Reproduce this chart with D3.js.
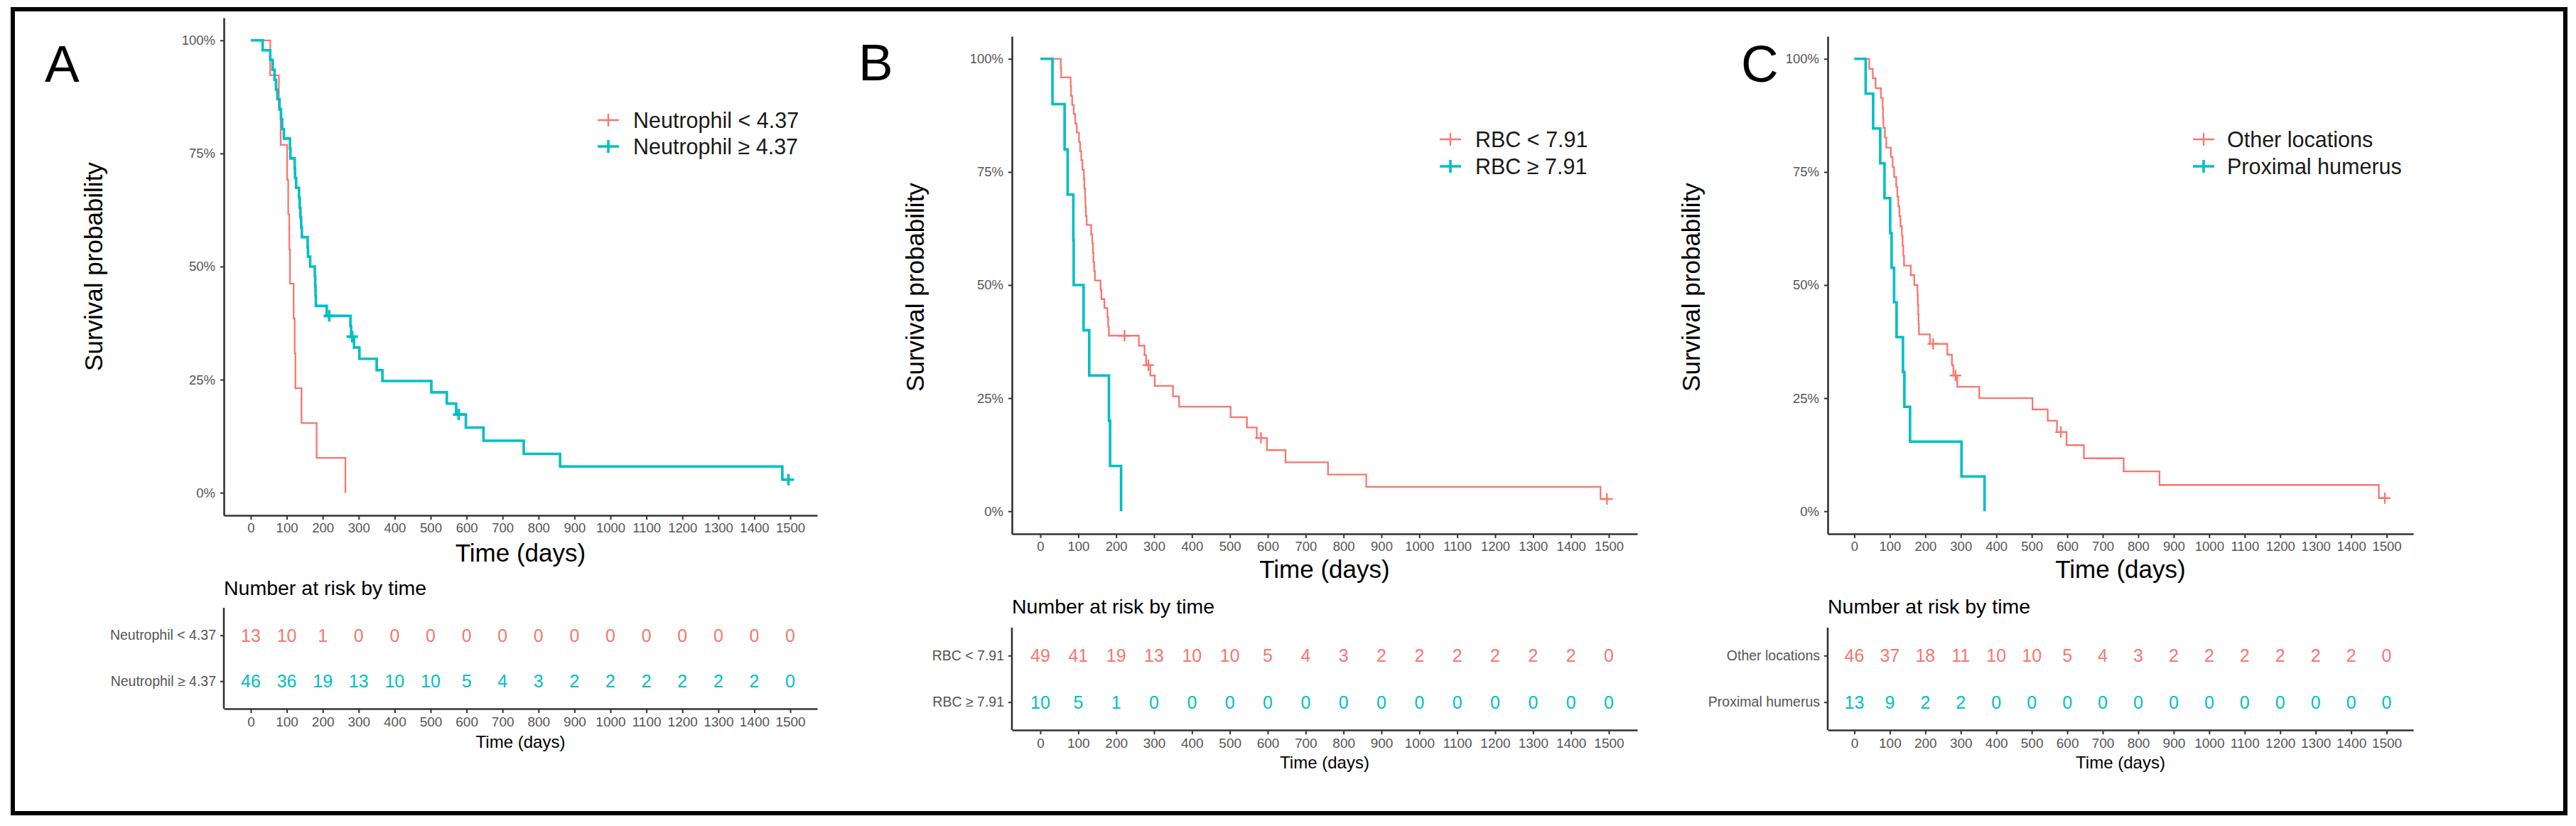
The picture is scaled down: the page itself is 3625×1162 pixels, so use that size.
<!DOCTYPE html>
<html><head><meta charset="utf-8">
<script src="https://cdn.jsdelivr.net/npm/d3@7"></script>
<style>
body{margin:0;background:#fff}
svg{display:block}
text{font-family:"Liberation Sans",Arial,Helvetica,sans-serif}
</style></head>
<body>
<svg id="chart" width="3625" height="1162"></svg>
<script>
// ---------------- DATA ----------------
const timeTicks = [0,100,200,300,400,500,600,700,800,900,1000,1100,1200,1300,1400,1500];
const survTicks = [0,0.25,0.5,0.75,1];
const survTickLabels = ["0%","25%","50%","75%","100%"];

// Panel A : Neutrophil
const aGroups = ["Neutrophil < 4.37", "Neutrophil \u2265 4.37"];
const aLowTime = [0,54,78,83,101,104,107,109,119,122,124,141,183,263];
const aLowSurv = [1,0.923,0.846,0.769,0.692,0.615,0.538,0.462,0.385,0.308,0.231,0.154,0.077,0];
const aLowCens = [];
const aHighTime = [0,33,54,61,66,70,74,80,84,87,92,109,110,122,123,126,134,136,138,140,142,158,159,165,178,179,180,181,211,277,279,287,302,350,366,502,545,571,598,647,759,860,1478,1495];
const aHighSurv = [1,0.978,0.957,0.935,0.913,0.891,0.870,0.848,0.826,0.804,0.783,0.761,0.739,0.717,0.696,0.674,0.652,0.630,0.609,0.587,0.565,0.543,0.522,0.500,0.478,0.457,0.435,0.413,0.391,0.368,0.345,0.321,0.296,0.271,0.247,0.222,0.197,0.173,0.144,0.115,0.086,0.058,0.029,0.029];
const aHighCens = [218,282,578,1495];
const aRiskLow  = [13,10,1,0,0,0,0,0,0,0,0,0,0,0,0,0];
const aRiskHigh = [46,36,19,13,10,10,5,4,3,2,2,2,2,2,2,0];

// Panel B : RBC
const bGroups = ["RBC < 7.91", "RBC \u2265 7.91"];
const bLowTime = [0,54,55,80,81,84,88,92,96,102,105,108,111,115,116,118,119,120,122,134,137,139,140,142,144,159,161,169,177,179,181,260,275,279,290,302,350,366,502,545,571,598,647,759,860,1478,1495];
const bLowSurv = [1,0.980,0.959,0.939,0.918,0.898,0.878,0.857,0.837,0.816,0.796,0.776,0.755,0.735,0.714,0.694,0.673,0.653,0.633,0.612,0.592,0.571,0.551,0.531,0.510,0.490,0.469,0.449,0.429,0.408,0.388,0.366,0.345,0.323,0.300,0.277,0.254,0.231,0.208,0.185,0.162,0.135,0.108,0.081,0.054,0.027,0.027];
const bLowCens = [222,285,582,1495];
const bHighTime = [0,32,64,72,87,88,114,129,181,184,213];
const bHighSurv = [1,0.9,0.8,0.7,0.6,0.5,0.4,0.3,0.2,0.1,0];
const bHighCens = [];
const bRiskLow  = [49,41,19,13,10,10,5,4,3,2,2,2,2,2,2,0];
const bRiskHigh = [10,5,1,0,0,0,0,0,0,0,0,0,0,0,0,0];

// Panel C : location
const cGroups = ["Other locations", "Proximal humerus"];
const cOtherTime = [0,42,52,60,75,80,81,82,86,90,103,108,112,118,121,124,127,130,134,136,138,140,159,169,178,179,180,181,182,213,262,275,279,290,352,502,545,571,598,647,759,860,1478,1495];
const cOtherSurv = [1,0.978,0.957,0.935,0.913,0.891,0.870,0.848,0.826,0.804,0.783,0.761,0.739,0.717,0.696,0.674,0.652,0.630,0.609,0.587,0.565,0.543,0.522,0.500,0.478,0.457,0.435,0.413,0.391,0.370,0.346,0.323,0.300,0.275,0.250,0.225,0.200,0.175,0.146,0.117,0.088,0.058,0.029,0.029];
const cOtherCens = [222,285,582,1495];
const cProxTime = [0,32,53,73,85,101,105,112,119,137,141,157,302,367];
const cProxSurv = [1,0.923,0.846,0.769,0.692,0.615,0.538,0.462,0.385,0.308,0.231,0.154,0.077,0];
const cProxCens = [];
const cRiskOther = [46,37,18,11,10,10,5,4,3,2,2,2,2,2,2,0];
const cRiskProx  = [13,9,2,2,0,0,0,0,0,0,0,0,0,0,0,0];

// ---------------- STYLE ----------------
const RED = "#F8766D", TEAL = "#00BFC4";
const AXIS = "#333333", TICKTXT = "#555555";

const panels = [
  {letter:"A", letterX:63, letterY:115, groups:aGroups,
   series:[{t:aLowTime,s:aLowSurv,c:aLowCens,col:RED,w:2.3},{t:aHighTime,s:aHighSurv,c:aHighCens,col:TEAL,w:3.6}],
   risk:[aRiskLow,aRiskHigh],
   left:315,right:1150,top:25,bottom:725,
   ylabX:131, ylabY:375, xlabY:777,
   legX:856, legTX:891, legY:[169,206],
   rTitleY:837, rTop:855, rBottom:997, rXlabY:1043},
  {letter:"B", letterX:1208, letterY:113, groups:bGroups,
   series:[{t:bLowTime,s:bLowSurv,c:bLowCens,col:RED,w:2.3},{t:bHighTime,s:bHighSurv,c:bHighCens,col:TEAL,w:3.6}],
   risk:[bRiskLow,bRiskHigh],
   left:1424,right:2304,top:51,bottom:751,
   ylabX:1287, ylabY:404, xlabY:800,
   legX:2041, legTX:2076, legY:[196,234],
   rTitleY:863, rTop:883, rBottom:1027, rXlabY:1072},
  {letter:"C", letterX:2450, letterY:115, groups:cGroups,
   series:[{t:cOtherTime,s:cOtherSurv,c:cOtherCens,col:RED,w:2.3},{t:cProxTime,s:cProxSurv,c:cProxCens,col:TEAL,w:3.6}],
   risk:[cRiskOther,cRiskProx],
   left:2572,right:3396,top:51,bottom:751,
   ylabX:2379, ylabY:404, xlabY:800,
   legX:3101, legTX:3134, legY:[196,234],
   rTitleY:863, rTop:883, rBottom:1027, rXlabY:1072}
];

const svg = d3.select("#chart");
svg.append("rect").attr("x",0).attr("y",0).attr("width",3625).attr("height",1162).attr("fill","#fff");

function styleAxis(g, fs){
  g.select(".domain").attr("stroke",AXIS).attr("stroke-width",2.6);
  g.selectAll(".tick line").attr("stroke",AXIS).attr("stroke-width",2);
  g.selectAll(".tick text").attr("fill",TICKTXT).attr("font-size",fs)
    .attr("font-family",'"Liberation Sans",Arial,sans-serif');
}

panels.forEach(p => {
  const g = svg.append("g");
  const x = d3.scaleLinear().domain([-75,1575]).range([p.left,p.right]);
  const y = d3.scaleLinear().domain([-0.05,1.05]).range([p.bottom,p.top]);

  // panel letter
  g.append("text").attr("x",p.letterX).attr("y",p.letterY).attr("font-size",73)
    .attr("fill","#000").text(p.letter);

  // axes
  const xa = g.append("g").attr("transform",`translate(0,${p.bottom})`)
    .call(d3.axisBottom(x).tickValues(timeTicks).tickFormat(d3.format("d")).tickSize(6).tickSizeOuter(0).tickPadding(5));
  styleAxis(xa, 18.5);
  const ya = g.append("g").attr("transform",`translate(${p.left},0)`)
    .call(d3.axisLeft(y).tickValues(survTicks).tickFormat((d,i)=>survTickLabels[i]).tickSize(5).tickSizeOuter(0).tickPadding(7));
  styleAxis(ya, 18.5);

  // axis titles
  g.append("text").attr("x",(p.left+p.right)/2).attr("y",p.xlabY)
    .attr("text-anchor","middle").attr("dominant-baseline","central")
    .attr("font-size",35).attr("fill","#000").text("Time (days)");
  g.append("text").attr("transform",`translate(${p.ylabX},${p.ylabY}) rotate(-90)`)
    .attr("text-anchor","middle").attr("dominant-baseline","central")
    .attr("font-size",35).attr("fill","#000").text("Survival probability");

  // curves
  const line = d3.line().x(d=>x(d[0])).y(d=>y(d[1])).curve(d3.curveStepAfter);
  p.series.forEach(s => {
    const pts = s.t.map((t,i)=>[t,s.s[i]]);
    g.append("path").datum(pts).attr("d",line).attr("fill","none")
      .attr("stroke",s.col).attr("stroke-width",s.w).attr("stroke-linejoin","miter");
    s.c.forEach(ct => {
      const idx = d3.bisectRight(s.t, ct) - 1;
      const cx = x(ct), cy = y(s.s[idx]);
      g.append("path").attr("d",`M${cx-8},${cy}H${cx+8}M${cx},${cy-8}V${cy+8}`)
        .attr("stroke",s.col).attr("stroke-width",s.w);
    });
  });

  // legend
  p.series.forEach((s,i) => {
    const ly = p.legY[i];
    g.append("path").attr("d",`M${p.legX-15},${ly}H${p.legX+15}M${p.legX},${ly-9}V${ly+9}`)
      .attr("stroke",s.col).attr("stroke-width",s.w);
    g.append("text").attr("x",p.legTX).attr("y",ly).attr("dominant-baseline","central")
      .attr("font-size",30.5).attr("fill","#1a1a1a").text(p.groups[i]);
  });

  // risk table
  g.append("text").attr("x",p.left).attr("y",p.rTitleY).attr("font-size",28.5)
    .attr("fill","#000").text("Number at risk by time");
  const yr = d3.scalePoint().domain(p.groups).range([p.rTop,p.rBottom]).padding(0.6);
  const rxa = g.append("g").attr("transform",`translate(0,${p.rBottom})`)
    .call(d3.axisBottom(x).tickValues(timeTicks).tickFormat(d3.format("d")).tickSize(6).tickSizeOuter(0).tickPadding(6));
  styleAxis(rxa, 19);
  const rya = g.append("g").attr("transform",`translate(${p.left},0)`)
    .call(d3.axisLeft(yr).tickSize(5).tickSizeOuter(0).tickPadding(6));
  styleAxis(rya, 19.5);
  rya.select(".domain").attr("d",`M0,${p.rTop}V${p.rBottom}`);
  p.risk.forEach((arr,i) => {
    const col = p.series[i].col;
    g.selectAll(null).data(arr).enter().append("text")
      .attr("x",(d,j)=>x(timeTicks[j])).attr("y",yr(p.groups[i]))
      .attr("text-anchor","middle").attr("dominant-baseline","central")
      .attr("font-size",25).attr("fill",col).text(d=>d);
  });
  g.append("text").attr("x",(p.left+p.right)/2).attr("y",p.rXlabY)
    .attr("text-anchor","middle").attr("dominant-baseline","central")
    .attr("font-size",24).attr("fill","#000").text("Time (days)");
});

// outer frame
svg.append("rect").attr("x",18).attr("y",13).attr("width",3592).attr("height",1131)
  .attr("fill","none").attr("stroke","#000").attr("stroke-width",6);
</script>
</body></html>
